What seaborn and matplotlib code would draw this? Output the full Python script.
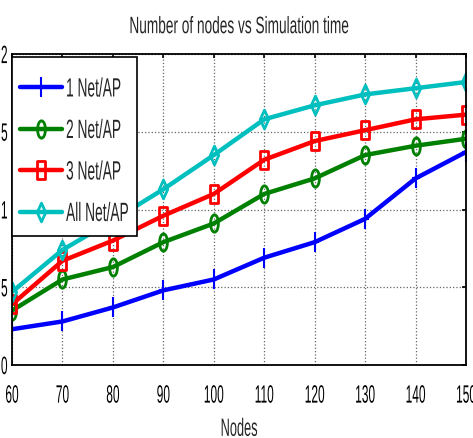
import matplotlib
matplotlib.use("Agg")
import matplotlib.pyplot as plt
from matplotlib.patheffects import AbstractPathEffect
from matplotlib.transforms import Affine2D
from matplotlib.path import Path
import seaborn as sns

nodes = [60, 70, 80, 90, 100, 110, 120, 130, 140, 150]
net1 = [0.23, 0.28, 0.37, 0.48, 0.55, 0.69, 0.79, 0.94, 1.20, 1.37]
net2 = [0.35, 0.55, 0.63, 0.79, 0.91, 1.10, 1.20, 1.35, 1.41, 1.455]
net3 = [0.39, 0.67, 0.80, 0.96, 1.10, 1.32, 1.44, 1.51, 1.58, 1.61]
net_all = [0.47, 0.74, 0.93, 1.13, 1.35, 1.58, 1.67, 1.74, 1.78, 1.82]
labels = ["1 Net/AP", "2 Net/AP", "3 Net/AP", "All Net/AP"]
y_ticks = [0, 0.5, 1, 1.5, 2]
y_tick_labels = ["0", "0.5", "1", "1.5", "2"]


class Stretch(AbstractPathEffect):
    """Scale glyph outlines vertically to get a tall, narrow lettering."""

    def __init__(self, sy, anchor="center"):
        super().__init__()
        self._sy = sy
        self._anchor = anchor

    def draw_path(self, renderer, gc, tpath, affine, rgbFace=None):
        ext = tpath.get_extents()
        if self._anchor == "top":
            y0 = ext.y1
        elif self._anchor == "bottom":
            y0 = 0.0
        else:
            y0 = 0.5 * (ext.y0 + ext.y1)
        tr = Affine2D().translate(0, -y0).scale(1, self._sy).translate(0, y0) + affine
        renderer.draw_path(gc, tpath, tr, rgbFace)


def tall_box(x0, y0, width, height, mutation_size, pad_top=1.14, pad_bottom=0.63):
    """Square legend frame with extra room above and below the entries."""
    top = y0 + height + pad_top * mutation_size
    bottom = y0 - pad_bottom * mutation_size
    verts = [(x0, bottom), (x0 + width, bottom), (x0 + width, top),
             (x0, top), (x0, bottom)]
    codes = [Path.MOVETO, Path.LINETO, Path.LINETO, Path.LINETO, Path.CLOSEPOLY]
    return Path(verts, codes)


# narrow marker shapes
ellipse = Affine2D().scale(0.45, 1.0).transform_path(Path.unit_circle())
box = Affine2D().translate(-0.5, -0.5).scale(0.5, 1.0).transform_path(Path.unit_rectangle())
diamond = Path([(0, -1), (0.45, 0), (0, 1), (-0.45, 0), (0, -1)],
               [Path.MOVETO, Path.LINETO, Path.LINETO, Path.LINETO, Path.CLOSEPOLY])
plus = Path([(0, -1), (0, 1), (-0.45, 0), (0.45, 0)],
            [Path.MOVETO, Path.LINETO, Path.MOVETO, Path.LINETO])

sns.set_theme(style="white")
plt.rcParams["font.family"] = ["Liberation Sans", "DejaVu Sans"]

fig = plt.figure(figsize=(4.73, 4.39), dpi=100)
ax = fig.add_axes([12 / 473, 1 - 366 / 439, 454 / 473, 311 / 439])

series = [net1, net2, net3, net_all]
colors = ["#0000ff", "#008000", "#ff0000", "#00bfbf"]
markers = [plus, ellipse, box, diamond]
msizes = [14, 12.5, 12.5, 13.5]
mews = [1.5, 2.0, 2.0, 2.0]
for vals, lab, c, m, ms, mw in zip(series, labels, colors, markers, msizes, mews):
    sns.lineplot(x=nodes, y=vals, ax=ax, color=c, marker=m, markersize=ms,
                 markerfacecolor="none", markeredgecolor=c, markeredgewidth=mw,
                 linewidth=3.2, label=lab)

ax.set_xlim(60, 150)
ax.set_ylim(0, 2)
ax.set_xticks(nodes)
ax.set_yticks(y_ticks)
ax.set_yticklabels(y_tick_labels)
ax.tick_params(direction="in", length=3, width=1.2, top=True, right=True,
               labelsize=8.6, colors="black")
ax.tick_params(axis="x", pad=14)
ax.tick_params(axis="y", pad=3.2)
ax.grid(True, linestyle=":", color="0.4", linewidth=0.9)
for s in ax.spines.values():
    s.set_color("black")
    s.set_linewidth(1.3)

for t in ax.get_xticklabels():
    t.set_path_effects([Stretch(2.1, "top")])
for t in ax.get_yticklabels():
    t.set_path_effects([Stretch(2.1, "center")])

title = ax.set_title("Number of nodes vs Simulation time", fontsize=9.84, pad=15)
title.set_path_effects([Stretch(1.74, "bottom")])
xl = ax.set_xlabel("Nodes", fontsize=9.2, labelpad=15.5)
xl.set_path_effects([Stretch(1.96, "top")])

leg = ax.legend(loc="upper left", bbox_to_anchor=(0, 1 - 18.7 / 311), fontsize=9.9,
                frameon=True, fancybox=False, borderaxespad=0, borderpad=0.6,
                handlelength=3.04, handletextpad=0.29, labelspacing=2.0,
                edgecolor="black", framealpha=1)
frame = leg.get_frame()
frame.set_linewidth(1.2)
frame.set_boxstyle(tall_box)
for t in leg.get_texts():
    t.set_path_effects([Stretch(1.92, "center")])

fig.savefig("out.png", dpi=100)
